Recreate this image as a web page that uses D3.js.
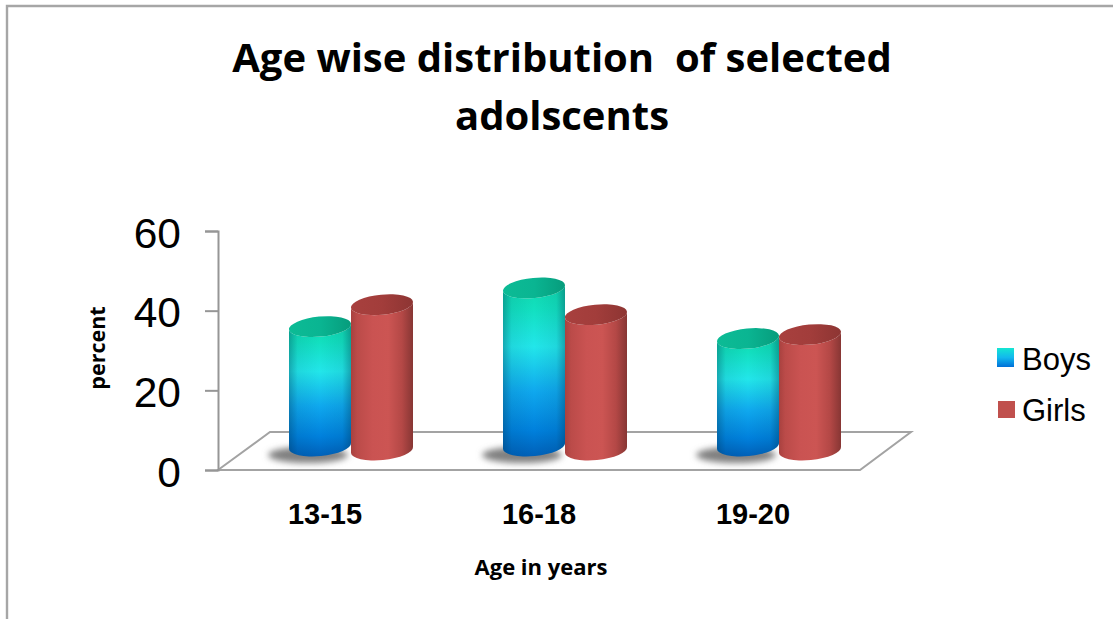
<!DOCTYPE html>
<html>
<head>
<meta charset="utf-8">
<script src="https://cdn.jsdelivr.net/npm/d3@7"></script>
<style>
  html, body { margin: 0; padding: 0; background: #fff; }
  svg { display: block; }
  text { fill: #000; }
</style>
</head>
<body>
<svg id="chart" width="1113" height="619"></svg>
<script>
// Chart data
const categories = ["13-15", "16-18", "19-20"];
const seriesNames = ["Boys", "Girls"];
const boys = [36, 45.7, 33];
const girls = [41.5, 39, 34];
const yTicks = [0, 20, 40, 60];
const titleLines = ["Age wise distribution  of selected", "adolscents"];

const svg = d3.select("#chart");
const defs = svg.append("defs");

// Scales
const y = d3.scaleLinear().domain([0, 60]).range([470, 231]);
const x0 = d3.scaleBand().domain(categories).range([218, 860]);
const depth = { dx: 52, dy: 38 };
const barW = 62;
const x1 = d3.scaleBand().domain(seriesNames).range([0, barW * 2]);
const tilt = { Boys: 3, Girls: 3 };
const ry = { Boys: 10, Girls: 10 };
const baseLift = { Boys: 24, Girls: 20 };

// Gradients
function gradient(id, x2, y2, stops) {
  const g = defs.append("linearGradient").attr("id", id)
    .attr("x1", 0).attr("y1", 0).attr("x2", x2).attr("y2", y2);
  stops.forEach(([o, c, a]) => g.append("stop")
    .attr("offset", o).attr("stop-color", c).attr("stop-opacity", a === undefined ? 1 : a));
}
gradient("boysBody", 0, 1, [[0, "#0fd8ac"], [0.14, "#12e0c0"], [0.36, "#22e6ea"], [0.62, "#0fa8ee"], [0.85, "#0080dc"], [1, "#0060b8"]]);
gradient("boysEdge", 1, 0, [[0, "#00304a", 0.34], [0.14, "#00304a", 0.08], [0.5, "#00304a", 0], [0.86, "#00304a", 0.08], [1, "#00304a", 0.36]]);
gradient("boysTop", 1, 0, [[0, "#0cbb95"], [0.5, "#0ab592"], [1, "#079c7c"]]);
gradient("girlsBody", 1, 0, [[0, "#a8413f"], [0.1, "#bb4b49"], [0.35, "#ca5352"], [0.6, "#cc5553"], [0.82, "#b44846"], [1, "#873634"]]);
gradient("girlsTop", 1, 0, [[0, "#a8403e"], [0.5, "#a23d3b"], [1, "#8d3533"]]);
gradient("boysKey", 0, 1, [[0, "#14e6d2"], [0.5, "#12b8ee"], [1, "#0070d8"]]);

defs.append("filter").attr("id", "soft").attr("x", "-30%").attr("y", "-60%")
  .attr("width", "160%").attr("height", "220%")
  .append("feGaussianBlur").attr("stdDeviation", 3);

// Outer frame
svg.append("path").attr("d", "M7,619 V6 H1113").attr("fill", "none")
  .attr("stroke", "#a6a6a6").attr("stroke-width", 2.4);

// Title
svg.append("g").selectAll("text").data(titleLines).join("text")
  .attr("x", 562).attr("y", (d, i) => 72 + i * 58)
  .attr("text-anchor", "middle")
  .style("white-space", "pre")
  .style("font", "bold 40px 'Open Sans', sans-serif")
  .text(d => d);

// Floor of the 3D plot
const left = x0.range()[0], right = x0.range()[1];
const floor = d3.path();
floor.moveTo(left, y(0));
floor.lineTo(left + depth.dx, y(0) - depth.dy);
floor.lineTo(right + depth.dx - 1, y(0) - depth.dy);
floor.lineTo(right, y(0));
floor.closePath();
svg.append("path").attr("d", floor.toString()).attr("fill", "#fff")
  .attr("stroke", "#a3a3a3").attr("stroke-width", 2);

// Value axis
const axis = d3.axisLeft(y).tickValues(yTicks).tickSize(13).tickPadding(24);
const axisG = svg.append("g").attr("transform", `translate(${left},0)`).call(axis);
axisG.selectAll("path, line").attr("stroke", "#969696").attr("stroke-width", 2);
axisG.selectAll("text").attr("fill", "#000")
  .style("font", "42.5px 'Liberation Sans', Arial, sans-serif")
  .attr("dy", "0.38em");

// Cylinder outlines
function arc(rx, r, angle, large, sweep, ex, ey) {
  return `A${rx},${r} ${angle} ${large} ${sweep} ${ex},${ey}`;
}
function cylinder(series, cat, v) {
  const cx = x0(cat) + depth.dx / 2 + x1(series) + x1.bandwidth() / 2 + (x0.bandwidth() - barW * 2) / 2;
  const rx = x1.bandwidth() / 2, t = tilt[series], r = ry[series];
  const angle = -Math.atan2(t, rx) * 180 / Math.PI;
  const top = y(v), base = y(0) - baseLift[series];
  return { cx, rx, t, r, angle, top, base,
    body: `M${cx - rx},${top + t}` + arc(rx, r, angle, 0, 0, cx + rx, top - t) +
      `L${cx + rx},${base - t}` + arc(rx, r, angle, 0, 1, cx - rx, base + t) + "Z",
    cap: `M${cx - rx},${top + t}` + arc(rx, r, angle, 0, 1, cx + rx, top - t) +
      arc(rx, r, angle, 0, 1, cx - rx, top + t) + "Z" };
}
const boyBars = categories.map((c, i) => cylinder("Boys", c, boys[i]));
const girlBars = categories.map((c, i) => cylinder("Girls", c, girls[i]));

// Ground shadow beside each boys cylinder
svg.append("g").selectAll("ellipse").data(boyBars).join("ellipse")
  .attr("cx", d => d.cx - 12).attr("cy", d => d.base + 9)
  .attr("rx", 40).attr("ry", 8)
  .attr("fill", "#808080").attr("filter", "url(#soft)");

// Boys cylinders
const boyG = svg.append("g");
boyG.selectAll("path.body").data(boyBars).join("path").attr("class", "body")
  .attr("d", d => d.body).attr("fill", "url(#boysBody)");
boyG.selectAll("path.edge").data(boyBars).join("path").attr("class", "edge")
  .attr("d", d => d.body).attr("fill", "url(#boysEdge)");
boyG.selectAll("path.cap").data(boyBars).join("path").attr("class", "cap")
  .attr("d", d => d.cap).attr("fill", "url(#boysTop)");

// Girls cylinders
const girlG = svg.append("g");
girlG.selectAll("path.body").data(girlBars).join("path").attr("class", "body")
  .attr("d", d => d.body).attr("fill", "url(#girlsBody)");
girlG.selectAll("path.cap").data(girlBars).join("path").attr("class", "cap")
  .attr("d", d => d.cap).attr("fill", "url(#girlsTop)");

// Category labels
svg.append("g").selectAll("text").data(categories).join("text")
  .attr("x", d => x0(d) + x0.bandwidth() / 2).attr("y", 524)
  .attr("text-anchor", "middle")
  .style("font", "bold 29px 'Liberation Sans', Arial, sans-serif")
  .text(d => d);

// Axis titles
svg.append("text").attr("x", 541).attr("y", 575).attr("text-anchor", "middle")
  .style("font", "bold 22px 'Open Sans', sans-serif").text("Age in years");
svg.append("text").attr("transform", "translate(105,348) rotate(-90)")
  .attr("text-anchor", "middle")
  .style("font", "bold 21.5px 'Open Sans', sans-serif").text("percent");

// Legend
const legendKeys = [
  { x: 997, y: 348, h: 19, fill: "url(#boysKey)", ty: 370 },
  { x: 998, y: 401, h: 17, fill: "#c0504d", ty: 421 }
];
const legend = svg.append("g");
legend.selectAll("rect").data(seriesNames).join("rect")
  .attr("x", (d, i) => legendKeys[i].x).attr("y", (d, i) => legendKeys[i].y)
  .attr("width", 17).attr("height", (d, i) => legendKeys[i].h)
  .attr("fill", (d, i) => legendKeys[i].fill);
legend.selectAll("text").data(seriesNames).join("text")
  .attr("x", 1022).attr("y", (d, i) => legendKeys[i].ty)
  .style("font", "31px 'Liberation Sans', Arial, sans-serif")
  .text(d => d);
</script>
</body>
</html>
